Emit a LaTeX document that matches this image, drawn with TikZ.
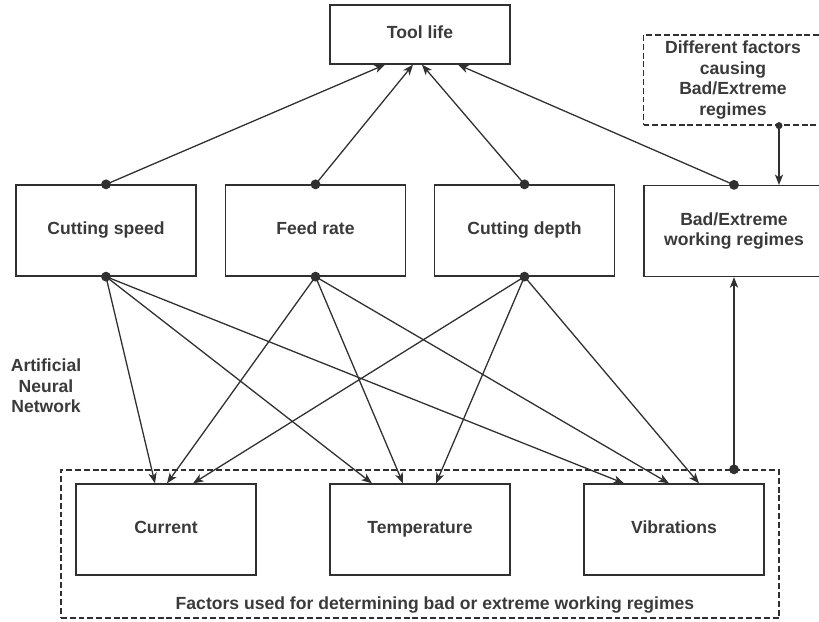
\documentclass[tikz,border=0pt]{standalone}
\usepackage{fontspec}
\setmainfont{Liberation Sans}
\usetikzlibrary{arrows.meta,calc}
\definecolor{linegray}{HTML}{303030}
\definecolor{textgray}{HTML}{3A3A3A}

\begin{document}
\begin{tikzpicture}[x=0.03cm,y=-0.03cm,
  every node/.style={font=\bfseries\fontsize{15}{17.5}\selectfont,text=textgray,align=center,inner sep=0pt},
  line1/.style={text height=0.72em,text depth=0pt},
  box/.style={draw=linegray,line width=1.1pt,minimum width=5.4cm,minimum height=2.73cm},
  dashbox/.style={draw=linegray,line width=1.1pt,dash pattern=on 5pt off 2.5pt},
  arr/.style={draw=linegray,line width=1.1pt,-{Stealth[length=9pt,width=7pt,inset=2.5pt]}},
  dot/.style={fill=linegray}]

\useasboundingbox (0,0) rectangle (819,621);

\node[box,line1,minimum height=1.77cm] (tool) at (420,34.5) {Tool life};
\node[dashbox,minimum width=5.37cm,minimum height=2.7cm] (diff) at (733,80) {Different factors\\causing\\Bad/Extreme\\regimes};

\node[box,line1] (speed) at (106,230.5) {Cutting speed};
\node[box,line1] (feed) at (315.5,230.5) {Feed rate};
\node[box,line1] (depth) at (524.5,230.5) {Cutting depth};
\node[box] (bad) at (734,231) {Bad/Extreme\\working regimes};

\node (ann) at (46,386) {Artificial\\Neural\\Network};

\node[dashbox,minimum width=21.54cm,minimum height=4.44cm] (grp) at (420,544) {};
\node[box,line1] (cur) at (166,529.5) {Current};
\node[box,line1] (temp) at (420,529.5) {Temperature};
\node[box,line1] (vib) at (674,529.5) {Vibrations};
\node[line1] (cap) at (435,605) {Factors used for determining bad or extreme working regimes};

\draw[arr] (speed.north) -- ($(tool.south)+(-35,0)$);
\draw[arr] (feed.north) -- ($(tool.south)+(-7,0)$);
\draw[arr] (depth.north) -- ($(tool.south)+(2,0)$);
\draw[arr] (bad.north) -- ($(tool.south)+(38,0)$);

\foreach \src/\dst/\dx in {speed/cur/-11, speed/temp/-48, speed/vib/-50,
  feed/cur/1, feed/temp/-17, feed/vib/-5,
  depth/cur/27, depth/temp/16, depth/vib/25}
  \draw[arr] (\src.south) -- ($(\dst.north)+(\dx,0)$);

\coordinate (hit) at (779,185);
\draw[arr] (hit |- diff.south) -- (hit);
\draw[arr] (bad.south |- grp.north) -- (bad.south);

\foreach \n in {speed,feed,depth,bad}
  \fill[dot] (\n.north) circle (4.2pt);
\foreach \n in {speed,feed,depth}
  \fill[dot] (\n.south) circle (4.2pt);
\fill[dot] (bad.south |- grp.north) circle (4.2pt);
\fill[dot] (hit |- diff.south) circle (3pt);

\end{tikzpicture}
\end{document}
